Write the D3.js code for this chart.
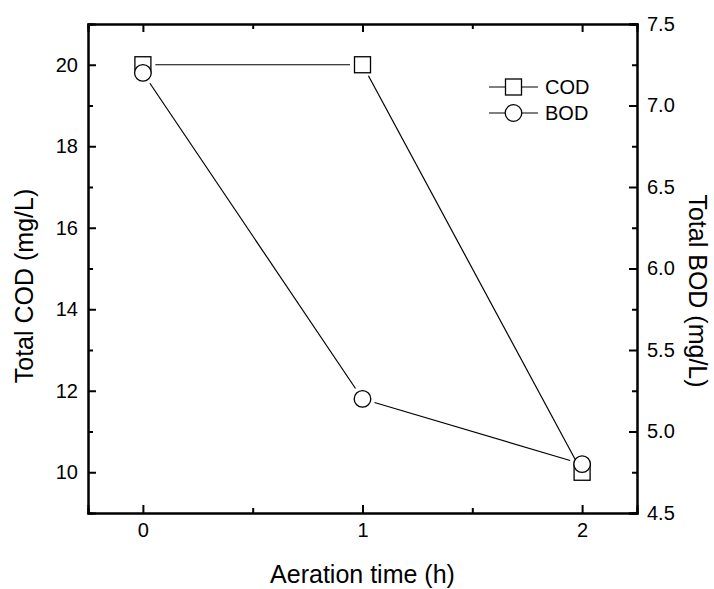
<!DOCTYPE html>
<html>
<head>
<meta charset="utf-8">
<script src="https://cdn.jsdelivr.net/npm/d3@7"></script>
<style>
    body { margin: 0; background: #fff; }
    text { font-family: Arial, "Liberation Sans", sans-serif; fill: #000; }
</style>
</head>
<body>
<div id="chart"></div>
<script>
// data
const hours = [0, 1, 2];
const codValues = [20, 20, 10];
const bodValues = [7.2, 5.2, 4.8];
const xTicks = [0, 1, 2];
const codTicks = [10, 12, 14, 16, 18, 20];
const bodTicks = [4.5, 5.0, 5.5, 6.0, 6.5, 7.0, 7.5];

const width = 714;
const height = 589;
const margin = { top: 24, bottom: 76, left: 88, right: 77 };

const svg = d3.select("#chart")
    .append("svg")
    .attr("width", width)
    .attr("height", height);

const x = d3.scaleLinear()
    .domain([-0.25, 2.25])
    .range([margin.left, width - margin.right]);

const yCod = d3.scaleLinear()
    .domain([9, 21])
    .range([height - margin.bottom, margin.top]);

const yBod = d3.scaleLinear()
    .domain([4.5, 7.5])
    .range([height - margin.bottom, margin.top]);

const plotBottom = height - margin.bottom;
const plotRight = width - margin.right;

// minor ticks halfway between majors
function minors(ticks) {
    const out = [];
    for (let i = 0; i < ticks.length - 1; i++) out.push((ticks[i] + ticks[i + 1]) / 2);
    return out;
}

function styleAxis(g, size) {
    g.select(".domain").attr("stroke-width", 2);
    g.selectAll(".tick line").attr("stroke-width", 2);
    g.selectAll(".tick text").style("font-size", size + "px").attr("fill", "#000");
}

// minor tick axes (no labels)
svg.append("g")
    .attr("transform", `translate(0,${plotBottom})`)
    .call(d3.axisBottom(x).tickValues(minors(xTicks)).tickSize(-5).tickFormat(""))
    .call(g => styleAxis(g, 20));
svg.append("g")
    .attr("transform", `translate(0,${margin.top})`)
    .call(d3.axisTop(x).tickValues(minors(xTicks)).tickSize(-5).tickFormat(""))
    .call(g => styleAxis(g, 20));
svg.append("g")
    .attr("transform", `translate(${margin.left},0)`)
    .call(d3.axisLeft(yCod).tickValues(minors([...codTicks, 22]).filter(v => v < 21)).tickSize(-5).tickFormat(""))
    .call(g => styleAxis(g, 20));
svg.append("g")
    .attr("transform", `translate(${plotRight},0)`)
    .call(d3.axisRight(yBod).tickValues(minors(bodTicks)).tickSize(-5).tickFormat(""))
    .call(g => styleAxis(g, 20));

// major axes, ticks pointing inward
svg.append("g")
    .attr("transform", `translate(0,${plotBottom})`)
    .call(d3.axisBottom(x).tickValues(xTicks).tickSize(-8).tickPadding(10).tickFormat(d3.format("d")))
    .call(g => styleAxis(g, 20));

svg.append("g")
    .attr("transform", `translate(0,${margin.top})`)
    .call(d3.axisTop(x).tickValues(xTicks).tickSize(-8).tickFormat(""))
    .call(g => styleAxis(g, 20));

svg.append("g")
    .attr("transform", `translate(${margin.left},0)`)
    .call(d3.axisLeft(yCod).tickValues(codTicks).tickSize(-8).tickPadding(10).tickFormat(d3.format("d")))
    .call(g => styleAxis(g, 20));

svg.append("g")
    .attr("transform", `translate(${plotRight},0)`)
    .call(d3.axisRight(yBod).tickValues(bodTicks).tickSize(-8).tickPadding(10).tickFormat(d3.format(".1f")))
    .call(g => styleAxis(g, 20));

// axis titles
svg.append("text")
    .attr("x", (margin.left + plotRight) / 2)
    .attr("y", 583)
    .attr("text-anchor", "middle")
    .style("font-size", "25px")
    .text("Aeration time (h)");

svg.append("text")
    .attr("transform", "translate(33,286) rotate(-90)")
    .attr("text-anchor", "middle")
    .style("font-size", "25px")
    .text("Total COD (mg/L)");

svg.append("text")
    .attr("transform", "translate(689,291) rotate(90)")
    .attr("text-anchor", "middle")
    .style("font-size", "25px")
    .text("Total BOD (mg/L)");

// lines with a small gap at each marker, like Origin draws them
const gap = 12.5;
function drawSeries(values, yScale) {
    const pts = hours.map((h, i) => [x(h), yScale(values[i])]);
    for (let i = 0; i < pts.length - 1; i++) {
        const [x1, y1] = pts[i];
        const [x2, y2] = pts[i + 1];
        const len = Math.hypot(x2 - x1, y2 - y1);
        const ux = (x2 - x1) / len, uy = (y2 - y1) / len;
        svg.append("line")
            .attr("x1", x1 + ux * gap).attr("y1", y1 + uy * gap)
            .attr("x2", x2 - ux * gap).attr("y2", y2 - uy * gap)
            .attr("stroke", "#000")
            .attr("stroke-width", 1.2);
    }
    return pts;
}

drawSeries(codValues, yCod);
drawSeries(bodValues, yBod);

const sq = 16;
svg.selectAll(".cod")
    .data(hours)
    .enter()
    .append("rect")
    .attr("class", "cod")
    .attr("x", (d, i) => x(d) - sq / 2)
    .attr("y", (d, i) => yCod(codValues[i]) - sq / 2)
    .attr("width", sq)
    .attr("height", sq)
    .attr("fill", "#fff")
    .attr("stroke", "#000")
    .attr("stroke-width", 1.3);

svg.selectAll(".bod")
    .data(hours)
    .enter()
    .append("circle")
    .attr("class", "bod")
    .attr("cx", d => x(d))
    .attr("cy", (d, i) => yBod(bodValues[i]))
    .attr("r", 8.3)
    .attr("fill", "#fff")
    .attr("stroke", "#000")
    .attr("stroke-width", 1.3);

// legend
const legend = [
    { name: "COD", shape: "square", y: 87 },
    { name: "BOD", shape: "circle", y: 113 }
];
legend.forEach(l => {
    svg.append("line")
        .attr("x1", 489).attr("x2", 538)
        .attr("y1", l.y).attr("y2", l.y)
        .attr("stroke", "#000").attr("stroke-width", 1.2);
    if (l.shape === "square") {
        svg.append("rect")
            .attr("x", 513.5 - sq / 2).attr("y", l.y - sq / 2)
            .attr("width", sq).attr("height", sq)
            .attr("fill", "#fff").attr("stroke", "#000").attr("stroke-width", 1.3);
    } else {
        svg.append("circle")
            .attr("cx", 513.5).attr("cy", l.y).attr("r", 8.3)
            .attr("fill", "#fff").attr("stroke", "#000").attr("stroke-width", 1.3);
    }
    svg.append("text")
        .attr("x", 545)
        .attr("y", l.y)
        .attr("dy", "0.35em")
        .style("font-size", "20px")
        .text(l.name);
});
</script>
</body>
</html>
